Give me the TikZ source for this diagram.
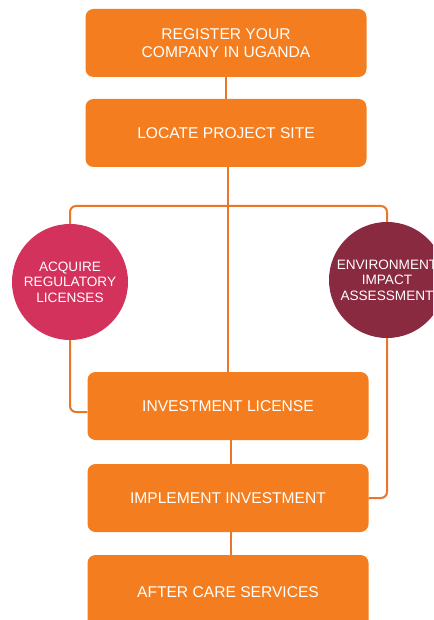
\documentclass[tikz,border=0pt]{standalone}
\usepackage{fontspec}
\setmainfont{Liberation Sans}
\usetikzlibrary{positioning}

\definecolor{boxorange}{HTML}{F47E1F}
\definecolor{lineorange}{HTML}{E9772A}
\definecolor{regred}{HTML}{D3325C}
\definecolor{envred}{HTML}{8A2A40}

\begin{document}
\begin{tikzpicture}[x=1pt, y=-1pt,
    block/.style={fill=boxorange, rectangle, rounded corners=8pt, minimum height=68pt, minimum width=281pt, align=center, text=white, font=\fontsize{15.6}{18}\selectfont},
    stage/.style={fill=#1, circle, minimum size=116pt, inner sep=0pt, align=center, text=white, font=\fontsize{13.6}{15.5}\selectfont},
    link/.style={draw=lineorange, line width=2pt, rounded corners=6pt}]

    \clip (0,0) rectangle (433,620);
    \fill [white] (0,0) rectangle (433,620);

    % Nodes
    \node [block] (register) at (226,43) {REGISTER YOUR\\COMPANY IN UGANDA};
    \node [block, below of=register, node distance=90pt] (site) {LOCATE PROJECT SITE};
    \node [block] (license) at (228,406) {INVESTMENT LICENSE};
    \node [block, below of=license, node distance=92pt] (implement) {IMPLEMENT INVESTMENT};
    \node [block, below of=implement, node distance=94pt, minimum height=74pt] (aftercare) {AFTER CARE SERVICES};

    \node [stage=regred] (acquire) at (70,282) {ACQUIRE\\REGULATORY\\LICENSES};
    \node [stage=envred] (eia) at (387,280) {ENVIRONMENT\\IMPACT\\ASSESSMENT};

    \coordinate (fork) at (228,206);

    % Links
    \draw [link] (register) -- (site);
    \draw [link] (site.south -| fork) -- (license.north -| fork);
    \draw [link] (acquire.north) |- (fork) -| (eia.north);
    \draw [link] (acquire.south) |- ([yshift=-6pt]license.west);
    \draw [link] (eia.south) |- (implement.east);
    \draw [link] ([xshift=3pt]license.south) -- ([xshift=3pt]implement.north);
    \draw [link] ([xshift=3pt]implement.south) -- ([xshift=3pt]aftercare.north);

\end{tikzpicture}
\end{document}
